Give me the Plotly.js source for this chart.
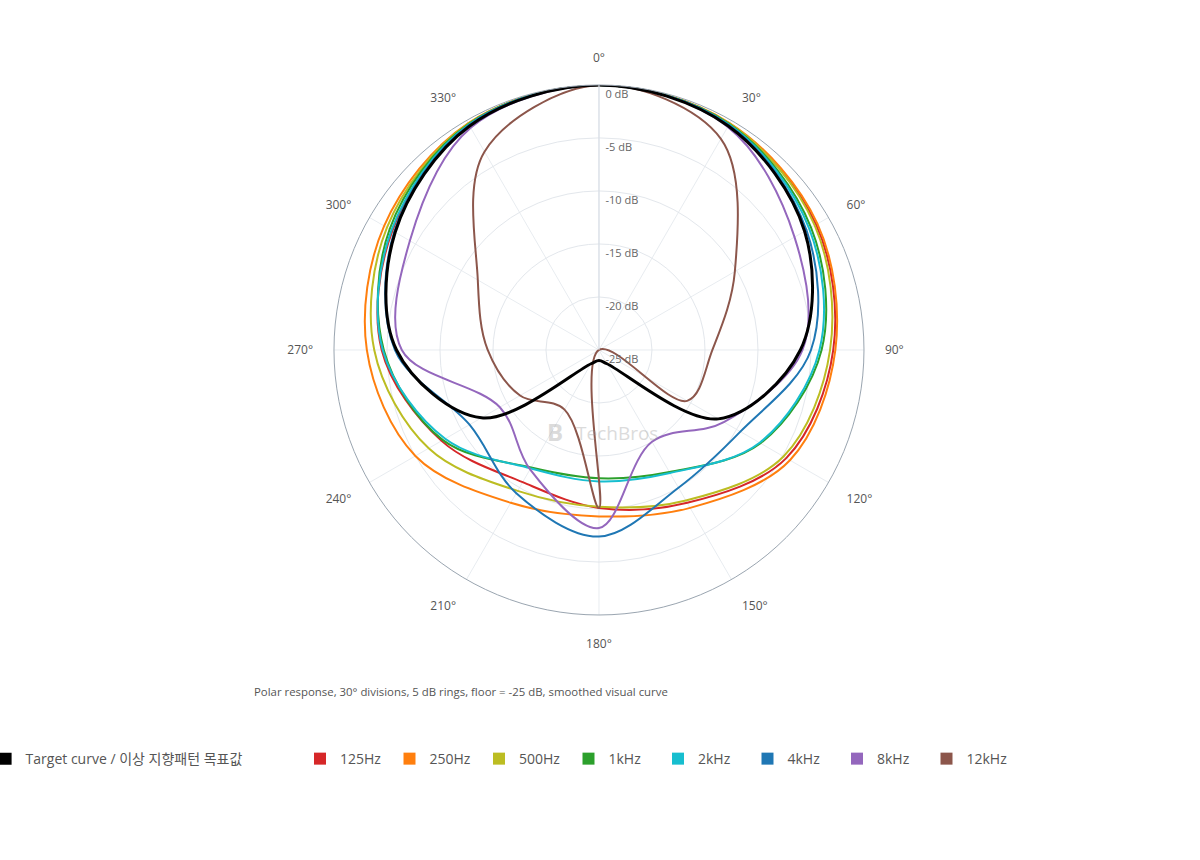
<!DOCTYPE html>
<html>
<head>
<meta charset="utf-8">
<script src="https://cdn.plot.ly/plotly-3.0.1.min.js"></script>
<style>
  html, body { margin: 0; padding: 0; background: #fff; }
  #chart { width: 1200px; height: 860px; }
</style>
</head>
<body>
<div id="chart"></div>
<script>
// angles of the measured points (deg, clockwise from front)
const angles = [0, 30, 60, 90, 120, 150, 180, 210, 240, 270, 300, 330];

// level in dB at each angle
const target = [0, -0.6, -2.6, -6.0, -12.0, -23.5, -24.0, -23.5, -12.2, -5.9, -2.8, -0.6];
const hz125  = [0, -0.4, -1.35, -2.9, -4.6, -8.35, -10.1, -10.6, -7.85, -4.5, -2.5, -0.4];
const hz250  = [0, -0.3, -1.2, -2.7, -4.2, -7.8, -9.3, -8.35, -5.0, -3.1, -1.6, -0.3];
const hz500  = [0, -0.35, -1.5, -3.2, -4.9, -8.6, -10.2, -9.65, -6.45, -3.8, -1.9, -0.35];
const khz1   = [0, -0.4, -1.9, -4.0, -7.4, -11.7, -12.9, -12.2, -8.0, -4.7, -2.2, -0.4];
const khz2   = [0, -0.45, -2.1, -4.2, -7.5, -11.6, -12.6, -12.1, -8.25, -4.6, -2.4, -0.45];
const khz4   = [0, -0.5, -2.4, -5.0, -9.6, -10.0, -7.4, -9.4, -10.9, -5.75, -2.7, -0.5];
const khz8   = [0, -0.7, -3.7, -5.8, -11.4, -15.0, -8.2, -12.0, -14.2, -6.4, -4.4, -0.8];
const khz12  = [0, -2.0, -10.2, -14.3, -15.4, -25.0, -10.1, -18.5, -16.4, -14.5, -11.8, -3.4];

const seriesNames = ['Target curve / 이상 지향패턴 목표값', '125Hz', '250Hz', '500Hz', '1kHz', '2kHz', '4kHz', '8kHz', '12kHz'];
const seriesData = [target, hz125, hz250, hz500, khz1, khz2, khz4, khz8, khz12];
const seriesColors = ['#000000', '#d62728', '#ff7f0e', '#bcbd22', '#2ca02c', '#17becf', '#1f77b4', '#9467bd', '#8c564b'];

const radialTicks = [-25, -20, -15, -10, -5, 0];
const radialLabels = ['-25 dB', '-20 dB', '-15 dB', '-10 dB', '-5 dB', '0 dB'];
const angleTicks = [0, 30, 60, 90, 120, 150, 180, 210, 240, 270, 300, 330];
const angleLabels = ['0°', '30°', '60°', '90°', '120°', '150°', '180°', '210°', '240°', '270°', '300°', '330°'];

const font = '"Open Sans", "Noto Sans CJK KR", sans-serif';

// closed curves: repeat the first point so plotly smooths the join
const closeIt = a => a.concat([a[0]]);

const lineTraces = seriesData.map((vals, i) => ({
  type: 'scatterpolar',
  mode: 'lines',
  r: closeIt(vals),
  theta: closeIt(angles),
  name: seriesNames[i],
  legendgroup: 'g' + i,
  showlegend: false,
  line: { color: seriesColors[i], width: i === 0 ? 3 : 2, shape: 'spline', smoothing: 1 },
  hoverinfo: 'skip'
}));

// target curve drawn on top
const ordered = lineTraces.slice(1).concat([lineTraces[0]]);

// legend entries with square swatches (target gets its own legend box)
const legendTraces = seriesNames.map((n, i) => ({
  type: 'scatterpolar',
  mode: 'markers',
  r: [null],
  theta: [null],
  name: n,
  legend: i === 0 ? 'legend' : 'legend2',
  legendgroup: 'g' + i,
  marker: { symbol: 'square', size: 12, color: seriesColors[i] },
  hoverinfo: 'skip'
}));

// empty trace so the label-only polar2 gets drawn
const labelHolder = {
  type: 'scatterpolar',
  subplot: 'polar2',
  mode: 'markers',
  r: [null],
  theta: [null],
  showlegend: false,
  hoverinfo: 'skip'
};

const legendFont = { size: 14, color: '#555', family: font };

const layout = {
  width: 1200,
  height: 860,
  margin: { l: 0, r: 0, t: 0, b: 0, autoexpand: false },
  paper_bgcolor: '#fff',
  font: { family: font, color: '#555' },
  showlegend: true,
  polar: {
    domain: { x: [0.2783, 0.72], y: [0.2849, 0.9012] },
    bgcolor: '#fff',
    radialaxis: {
      range: [-25, 0],
      tickmode: 'array',
      tickvals: radialTicks,
      showticklabels: false,
      angle: 90,
      showline: true,
      linecolor: '#d5dce4',
      ticks: '',
      gridcolor: '#e3e7ec',
      gridwidth: 1
    },
    angularaxis: {
      rotation: 90,
      direction: 'clockwise',
      tickmode: 'array',
      tickvals: angleTicks,
      ticktext: angleLabels,
      ticks: 'outside',
      ticklen: 18,
      tickcolor: 'rgba(0,0,0,0)',
      showline: true,
      linecolor: '#9aa5b0',
      linewidth: 1,
      gridcolor: '#e8ecf0',
      tickfont: { size: 12, color: '#555', family: font }
    }
  },
  // same scale, nudged down-right, only to carry the dB labels
  polar2: {
    domain: { x: [0.2833, 0.725], y: [0.2739, 0.8902] },
    bgcolor: 'rgba(0,0,0,0)',
    radialaxis: {
      range: [-25, 0],
      tickmode: 'array',
      tickvals: radialTicks,
      ticktext: radialLabels,
      angle: 90,
      tickangle: 90,
      side: 'clockwise',
      showline: false,
      showgrid: false,
      ticks: '',
      tickfont: { size: 11, color: '#666', family: font }
    },
    angularaxis: {
      showgrid: false,
      showline: false,
      showticklabels: false,
      ticks: ''
    }
  },
  legend: {
    orientation: 'h',
    x: -0.012,
    xanchor: 'left',
    y: 0.1174,
    yanchor: 'middle',
    font: legendFont,
    itemclick: false,
    itemdoubleclick: false
  },
  legend2: {
    orientation: 'h',
    x: 0.25,
    xanchor: 'left',
    y: 0.1174,
    yanchor: 'middle',
    entrywidth: 44.5,
    font: legendFont,
    itemclick: false,
    itemdoubleclick: false
  },
  annotations: [
    {
      xref: 'paper', yref: 'paper',
      x: 0.21, y: 0.1965, xanchor: 'left', yanchor: 'middle',
      text: 'Polar response, 30° divisions, 5 dB rings, floor = -25 dB, smoothed visual curve',
      showarrow: false,
      font: { size: 11.4, color: '#555', family: font }
    },
    {
      xref: 'paper', yref: 'paper',
      x: 0.4625, y: 0.498, xanchor: 'center', yanchor: 'middle',
      text: '<b>B</b>',
      showarrow: false,
      opacity: 0.35,
      font: { size: 24, color: '#999', family: font }
    },
    {
      xref: 'paper', yref: 'paper',
      x: 0.514, y: 0.497, xanchor: 'center', yanchor: 'middle',
      text: 'TechBros',
      showarrow: false,
      opacity: 0.35,
      font: { size: 19, color: '#999', family: font }
    }
  ]
};

Plotly.newPlot('chart', ordered.concat(legendTraces, [labelHolder]), layout, { staticPlot: true });
</script>
</body>
</html>
